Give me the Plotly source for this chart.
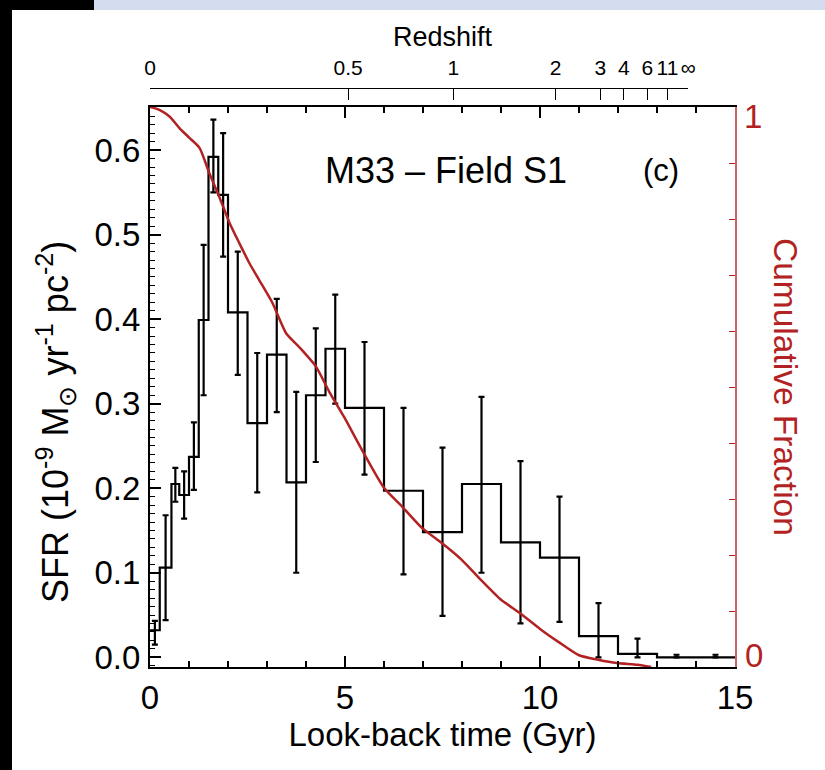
import plotly.graph_objects as go

# ---------------- data ----------------
bin_edges = [0, 0.25, 0.55, 0.75, 1.0, 1.25, 1.5, 1.75, 2.0, 2.5, 3.0, 3.5, 4.0, 4.5,
             5.0, 6.0, 7.0, 8.0, 9.0, 10.0, 11.0, 12.0, 13.0, 14.0, 15.0]
sfr = [0.032, 0.106, 0.205, 0.192, 0.237, 0.399, 0.592, 0.547, 0.408, 0.277, 0.358, 0.207,
       0.310, 0.365, 0.295, 0.197, 0.148, 0.205, 0.136, 0.118, 0.025, 0.004, 0.0, 0.0]
sfr_lo = [0.015, 0.044, 0.184, 0.164, 0.198, 0.310, 0.550, 0.474, 0.334, 0.195, 0.290, 0.100,
          0.231, 0.300, 0.216, 0.098, 0.049, 0.100, 0.040, 0.042, 0.0, 0.0, 0.0, 0.0]
sfr_hi = [0.043, 0.168, 0.224, 0.220, 0.278, 0.488, 0.636, 0.620, 0.480, 0.360, 0.424, 0.314,
          0.389, 0.429, 0.373, 0.295, 0.248, 0.308, 0.232, 0.190, 0.064, 0.022, 0.003, 0.003]

cum_t = [0.0, 0.24, 0.5, 0.76, 1.01, 1.27, 1.52, 1.78, 2.04, 2.29, 2.55, 2.8, 3.14, 3.49,
         3.83, 4.26, 4.6, 4.98, 5.44, 6.0, 6.47, 6.98, 7.49, 8.0, 8.49, 9.0, 9.49, 10.0,
         10.49, 11.0, 11.49, 11.97, 12.5, 12.85]
cum_frac = [1.0, 0.995, 0.983, 0.962, 0.945, 0.927, 0.882, 0.839, 0.793, 0.757, 0.721, 0.691,
            0.65, 0.596, 0.571, 0.536, 0.491, 0.446, 0.387, 0.32, 0.286, 0.248, 0.221, 0.191,
            0.155, 0.12, 0.096, 0.068, 0.044, 0.021, 0.013, 0.007, 0.004, 0.0]

z_labels = ["0", "0.5", "1", "2", "3", "4", "6", "11", "\u221e"]
z_lookback = [0.0, 5.08, 7.78, 10.4, 11.55, 12.15, 12.75, 13.27, 13.8]

cum_tickvals = [0, 0.1, 0.2, 0.3, 0.4, 0.5, 0.6, 0.7, 0.8, 0.9, 1.0]
cum_labels = ["0", "1"]

# ---------------- layout geometry ----------------
W, H = 825, 770
L, R, T, B = 150, 90, 88, 103
PW, PH = W - L - R, H - T - B
ydom_top = (H - B - 107) / PH  # main plot top at px 107


def px_x(px):
    return (px - L) / PW


def px_y(py):
    return (H - B - py) / PH


RED = "#b22222"
FONT = "Liberation Sans, Arial, Helvetica, sans-serif"

# step histogram
step_x = bin_edges[:]
step_y = sfr + [sfr[-1]]
centers = [(bin_edges[i] + bin_edges[i + 1]) / 2 for i in range(len(sfr))]
err_plus = [h - v for h, v in zip(sfr_hi, sfr)]
err_minus = [v - l for v, l in zip(sfr, sfr_lo)]

fig = go.Figure()

fig.add_trace(go.Scatter(
    x=cum_t, y=cum_frac, mode="lines", yaxis="y2",
    line=dict(color=RED, width=2.5, shape="spline", smoothing=0.6),
    showlegend=False, hoverinfo="skip"))

fig.add_trace(go.Scatter(
    x=step_x, y=step_y, mode="lines", line=dict(color="black", width=2.2, shape="hv"),
    showlegend=False, hoverinfo="skip"))

fig.add_trace(go.Scatter(
    x=centers, y=sfr, mode="markers", marker=dict(size=1, color="rgba(0,0,0,0)"),
    error_y=dict(type="data", symmetric=False, array=err_plus, arrayminus=err_minus,
                 color="black", thickness=2.2, width=3),
    showlegend=False, hoverinfo="skip"))

# invisible trace to host the redshift axis
fig.add_trace(go.Scatter(x=[0], y=[None], xaxis="x2", yaxis="y", mode="markers",
                         showlegend=False, hoverinfo="skip"))

fig.update_layout(
    width=W, height=H,
    margin=dict(l=L, r=R, t=T, b=B, pad=0, autoexpand=False),
    paper_bgcolor="white", plot_bgcolor="rgba(0,0,0,0)",
    font=dict(family=FONT, size=33, color="black"),
    xaxis=dict(
        range=[0, 15], domain=[0, 1], tickvals=[0, 5, 10, 15], automargin=False,
        ticks="inside", ticklen=11, tickwidth=1.5, tickcolor="black",
        showline=True, linecolor="black", linewidth=2, mirror="ticks",
        showgrid=False, zeroline=False,
        minor=dict(dtick=1, tick0=0, ticks="inside", ticklen=6, tickwidth=1.5,
                   tickcolor="black", showgrid=False),
        tickfont=dict(size=33), ticklabelstandoff=0,
        title=dict(text="Look-back time (Gyr)", font=dict(size=33), standoff=4),
    ),
    xaxis2=dict(
        range=[0, z_lookback[-1]], domain=[0, z_lookback[-1] / 15.0], automargin=False,
        anchor="free", position=1.0, side="top",
        tickvals=z_lookback, ticktext=z_labels, tickangle=0,
        ticks="inside", ticklen=11, tickwidth=1.2, tickcolor="black",
        showline=True, linecolor="black", linewidth=1.2,
        showgrid=False, zeroline=False, tickfont=dict(size=21), ticklabelstandoff=5,
    ),
    yaxis=dict(
        range=[-0.0115, 0.651], domain=[0, ydom_top], automargin=False,
        tick0=0, dtick=0.1, tickformat=".1f",
        ticks="inside", ticklen=11, tickwidth=1.5, tickcolor="black",
        showline=True, linecolor="black", linewidth=2,
        showgrid=False, zeroline=False,
        minor=dict(dtick=0.01, tick0=0, ticks="inside", ticklen=5, tickwidth=1.2,
                   tickcolor="black", showgrid=False),
        tickfont=dict(size=33), ticklabelstandoff=1,
    ),
    yaxis2=dict(
        range=[0, 1], overlaying="y", side="right", anchor="x", automargin=False,
        tickvals=cum_tickvals, showticklabels=False,
        ticks="inside", ticklen=6, tickwidth=1.2, tickcolor=RED,
        showline=True, linecolor="#c86464", linewidth=1.5,
        showgrid=False, zeroline=False,
    ),
    annotations=[
        dict(text="Redshift", x=px_x(443), y=px_y(37), xref="paper", yref="paper",
             xanchor="center", yanchor="middle", showarrow=False,
             font=dict(size=27, color="black")),
        dict(text="SFR (10<sup>-9</sup> M<sub>\u2299</sub> yr<sup>-1</sup> pc<sup>-2</sup>)",
             x=px_x(55), y=px_y(422), xref="paper", yref="paper",
             xanchor="center", yanchor="middle", textangle=-90, showarrow=False,
             font=dict(size=36, color="black")),
        dict(text="M33 \u2013 Field S1", x=7.6, y=0.576, xref="x", yref="y",
             showarrow=False, font=dict(size=36, color="black")),
        dict(text="(c)", x=13.1, y=0.576, xref="x", yref="y",
             showarrow=False, font=dict(size=31, color="black")),
        dict(text="Cumulative Fraction", x=px_x(786), y=px_y(387), xref="paper", yref="paper",
             xanchor="center", yanchor="middle",
             textangle=90, showarrow=False, font=dict(size=33.5, color=RED)),
        dict(text=cum_labels[1], x=px_x(753), y=px_y(116), xref="paper", yref="paper",
             xanchor="center", yanchor="middle", showarrow=False,
             font=dict(size=33, color=RED)),
        dict(text=cum_labels[0], x=px_x(754), y=px_y(655), xref="paper", yref="paper",
             xanchor="center", yanchor="middle", showarrow=False,
             font=dict(size=33, color=RED)),
    ],
    shapes=[
        dict(type="rect", xref="paper", yref="paper", x0=px_x(0), x1=px_x(12),
             y0=px_y(770), y1=px_y(0), fillcolor="black", line=dict(width=0), layer="above"),
        dict(type="rect", xref="paper", yref="paper", x0=px_x(0), x1=px_x(94),
             y0=px_y(10), y1=px_y(0), fillcolor="black", line=dict(width=0), layer="above"),
        dict(type="rect", xref="paper", yref="paper", x0=px_x(94), x1=px_x(825),
             y0=px_y(10), y1=px_y(0), fillcolor="#d4ddef", line=dict(width=0), layer="above"),
    ],
)

fig.write_html("out.html", config={"displayModeBar": False},
               post_script="document.body.style.margin='0px';")
